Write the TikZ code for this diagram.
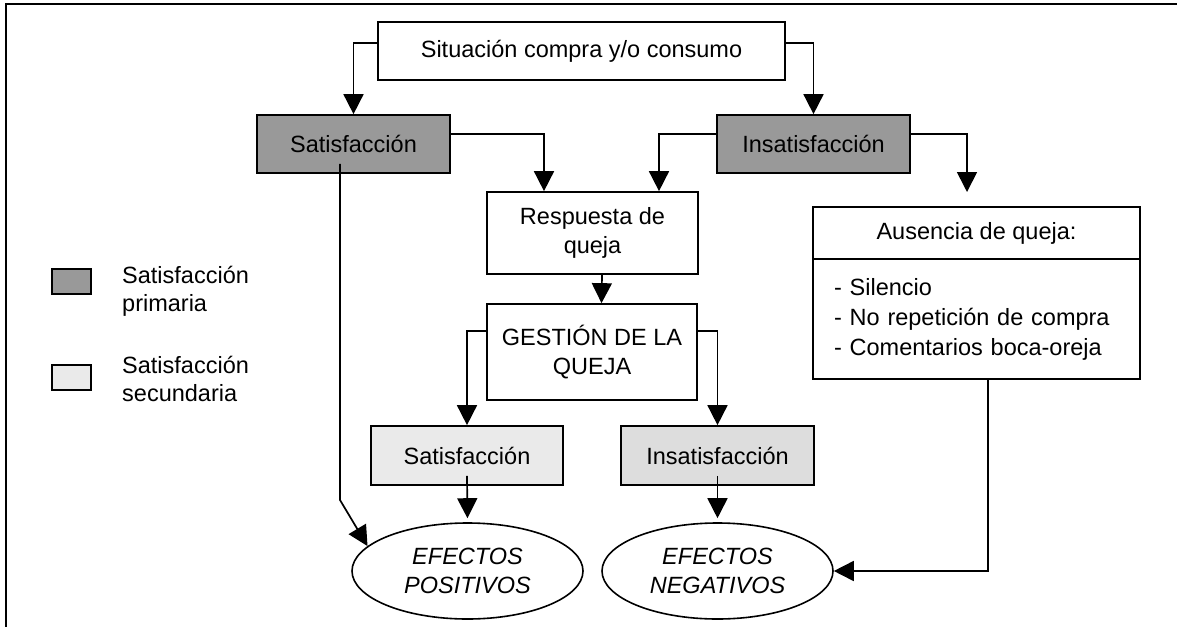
\documentclass[tikz,border=0pt]{standalone}
\usepackage{fontspec}
\setmainfont{Liberation Sans}
\usetikzlibrary{arrows.meta,shapes.geometric}
\definecolor{prim}{RGB}{153,153,153}
\definecolor{secs}{RGB}{234,234,234}
\definecolor{seci}{RGB}{221,221,221}
\begin{document}
\begin{tikzpicture}[x=1pt,y=-1pt,
  txt/.style={font=\fontsize{23.5pt}{28.5pt}\selectfont},
  box/.style={txt,draw,line width=1.7pt,rectangle,inner sep=0pt,align=center},
  ell/.style={txt,draw,line width=1.6pt,ellipse,inner sep=0pt,align=center,
    minimum width=231pt,minimum height=96pt,font=\fontsize{23.5pt}{28.5pt}\selectfont\itshape},
  arr/.style={line width=1.7pt,-{Triangle[width=20pt,length=20pt]}}]
\useasboundingbox (0,0) rectangle (1177,626);
\clip (0,0) rectangle (1177,626);
\draw[line width=1.5pt] (6,4) rectangle (1190,640);

% main flow
\node[box,minimum width=407pt,minimum height=58pt] (top) at (581.5,51) {Situación compra y/o consumo};
\node[box,fill=prim,minimum width=193pt,minimum height=58pt] (sat1) at (353.5,144) {Satisfacción};
\node[box,fill=prim,minimum width=193pt,minimum height=58pt] (ins1) at (813.5,144) {Insatisfacción};
\node[box,minimum width=211pt,minimum height=82pt] (resp) at (592.5,233) {Respuesta de\\queja};
\node[box,minimum width=210pt,minimum height=96pt] (gest) at (592,352) {GESTIÓN DE LA\\QUEJA};
\node[box,fill=secs,minimum width=192pt,minimum height=59pt] (sat2) at (467,455.5) {Satisfacción};
\node[box,fill=seci,minimum width=193pt,minimum height=59pt] (ins2) at (717.5,455.5) {Insatisfacción};
\node[ell] (pos) at (467.5,571) {EFECTOS\\POSITIVOS};
\node[ell] (neg) at (717.5,571) {EFECTOS\\NEGATIVOS};

% ausencia de queja
\node[box,minimum width=327pt,minimum height=52pt] (ausT) at (976.5,233) {Ausencia de queja:};
\node[box,minimum width=327pt,minimum height=120pt,text width=285pt,align=left,inner xsep=21pt] (ausL) at (976.5,319)
  {- Silencio\\[1.5pt]- No repetición de compra\\[1.5pt]- Comentarios boca-oreja};

% legend
\node[box,fill=prim,minimum width=39pt,minimum height=25pt] (leg1) at (71.5,281.5) {};
\node[box,fill=secs,minimum width=39pt,minimum height=25pt] (leg2) at (71.5,377.5) {};
\node[txt,anchor=west,inner sep=0pt,align=left] (leg1t) at (122,291.5) {Satisfacción\\primaria};
\node[txt,anchor=west,inner sep=0pt,align=left] (leg2t) at (122,379) {Satisfacción\\secundaria};

% helper coordinates
\coordinate (c1) at (967,192);
\coordinate (c2) at (340,500);

% connectors
\draw[arr] ([yshift=8pt]top.west) -| (sat1.north);
\draw[arr] ([yshift=8pt]top.east) -| (ins1.north);
\draw[arr] ([yshift=10pt]sat1.east) -| ([xshift=-48.5pt]resp.north);
\draw[arr] ([yshift=10pt]ins1.west) -| ([xshift=66.5pt]resp.north);
\draw[arr] ([yshift=10pt]ins1.east) -| (c1);
\draw[arr] ([xshift=9.5pt]resp.south) -- ([xshift=9.5pt]gest.north);
\draw[arr] ([yshift=21pt]gest.west) -| (sat2.north);
\draw[arr] ([yshift=21pt]gest.east) -| (ins2.north);
\draw[arr,shorten >=4pt] ([yshift=10pt]sat2.south) -- (pos.north);
\draw[arr,shorten >=4pt] ([yshift=10pt]ins2.south) -- (neg.north);
\draw[arr] ([xshift=-13.5pt,yshift=10pt]sat1.south) -- (c2) -- (pos.166);
\draw[arr] ([xshift=11.5pt]ausL.south) |- (neg.east);
\end{tikzpicture}
\end{document}
